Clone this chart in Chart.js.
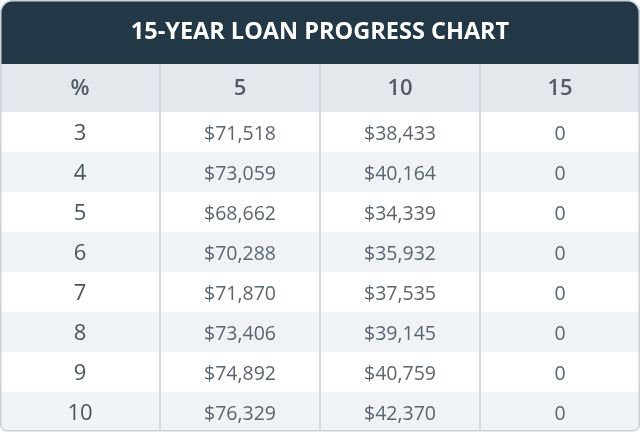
<!DOCTYPE html>
<html>
<head>
<meta charset="utf-8">
<script src="https://cdn.jsdelivr.net/npm/chart.js@4/dist/chart.umd.min.js"></script>
<style>
  html, body { margin: 0; padding: 0; background: #ffffff; }
  #wrap { width: 640px; height: 432px; }
</style>
</head>
<body>
<div id="wrap"><canvas id="loanTable" width="640" height="432"></canvas></div>
<script>
// table data
var title = "15-YEAR LOAN PROGRESS CHART";
var columns = ["%", "5", "10", "15"];
var rates = [3, 4, 5, 6, 7, 8, 9, 10];
var balanceAfter5 = [71518, 73059, 68662, 70288, 71870, 73406, 74892, 76329];
var balanceAfter10 = [38433, 40164, 34339, 35932, 37535, 39145, 40759, 42370];
var balanceAfter15 = [0, 0, 0, 0, 0, 0, 0, 0];

var FONT = "'Open Sans', sans-serif";
var HEADER_SPAN = 1.2; // header row is a bit taller than a data row

function money(v) {
  return v === 0 ? "0" : "$" + v.toLocaleString("en-US");
}

function roundRect(ctx, x, y, w, h, rTop, rBottom) {
  ctx.beginPath();
  ctx.moveTo(x + rTop, y);
  ctx.lineTo(x + w - rTop, y);
  ctx.arcTo(x + w, y, x + w, y + rTop, rTop);
  ctx.lineTo(x + w, y + h - rBottom);
  ctx.arcTo(x + w, y + h, x + w - rBottom, y + h, rBottom);
  ctx.lineTo(x + rBottom, y + h);
  ctx.arcTo(x, y + h, x, y + h - rBottom, rBottom);
  ctx.lineTo(x, y + rTop);
  ctx.arcTo(x, y, x + rTop, y, rTop);
  ctx.closePath();
}

// draws the table cells using the chart scales
var tablePlugin = {
  id: "tablePlugin",
  beforeDraw: function(chart) {
    var ctx = chart.ctx, area = chart.chartArea;
    var xs = chart.scales.x, ys = chart.scales.y;
    ctx.save();
    roundRect(ctx, 0.5, 0.5, chart.width - 1, chart.height - 1.5, 12, 6);
    ctx.clip();
    ctx.fillStyle = "#ffffff";
    ctx.fillRect(0, 0, chart.width, chart.height);
    // title band
    ctx.fillStyle = "#223847";
    ctx.fillRect(0, 0, chart.width, area.top);
    // header row
    var hTop = ys.getPixelForValue(-HEADER_SPAN), hBot = ys.getPixelForValue(0);
    ctx.fillStyle = "#e3e8ec";
    ctx.fillRect(0, hTop, chart.width, hBot - hTop);
    // striped rows
    rates.forEach(function(r, i) {
      if (i % 2 === 1) {
        var t = ys.getPixelForValue(i), b = ys.getPixelForValue(i + 1);
        ctx.fillStyle = "#f0f3f6";
        ctx.fillRect(0, t, chart.width, b - t);
      }
    });
    // column dividers
    ctx.fillStyle = "#d3d9df";
    for (var c = 0; c < columns.length - 1; c++) {
      var xm = (xs.getPixelForValue(c) + xs.getPixelForValue(c + 1)) / 2;
      ctx.fillRect(Math.round(xm) - 1, area.top, 2, area.bottom - area.top);
    }
    ctx.restore();
  },
  afterDraw: function(chart) {
    var ctx = chart.ctx;
    var xs = chart.scales.x, ys = chart.scales.y;
    ctx.save();
    ctx.textAlign = "center";
    ctx.textBaseline = "middle";
    // header labels
    var hMid = ys.getPixelForValue(-HEADER_SPAN / 2);
    ctx.fillStyle = "#515b66";
    ctx.font = "600 22px " + FONT;
    columns.forEach(function(label, c) {
      ctx.fillText(label, xs.getPixelForValue(c), hMid + 1);
    });
    // body cells
    var cols = [balanceAfter5, balanceAfter10, balanceAfter15];
    rates.forEach(function(rate, i) {
      var yMid = ys.getPixelForValue(i + 0.5) + 2;
      ctx.fillStyle = "#4b5560";
      ctx.font = "500 22px " + FONT;
      ctx.fillText(String(rate), xs.getPixelForValue(0), yMid);
      ctx.fillStyle = "#5b6570";
      ctx.font = "400 19.5px " + FONT;
      cols.forEach(function(series, c) {
        ctx.fillText(money(series[i]), xs.getPixelForValue(c + 1), yMid);
      });
    });
    // outer border
    ctx.strokeStyle = "#cbd2d8";
    ctx.lineWidth = 1.5;
    roundRect(ctx, 0.75, 0.75, chart.width - 1.5, chart.height - 2, 12, 6);
    ctx.stroke();
    ctx.restore();
  }
};

var chart = new Chart(document.getElementById("loanTable").getContext("2d"), {
  type: "bar",
  data: {
    labels: columns,
    datasets: []
  },
  options: {
    responsive: false,
    animation: false,
    devicePixelRatio: 1,
    layout: { padding: 0 },
    plugins: {
      legend: { display: false },
      tooltip: { enabled: false },
      title: {
        display: true,
        text: title,
        color: "#ffffff",
        font: { family: FONT, size: 23.5, weight: "bold", lineHeight: "24px" },
        padding: { top: 20, bottom: 20 }
      }
    },
    scales: {
      x: { type: "category", display: false, offset: true },
      y: { type: "linear", display: false, reverse: true, min: -HEADER_SPAN, max: rates.length }
    }
  },
  plugins: [tablePlugin]
});
</script>
</body>
</html>
